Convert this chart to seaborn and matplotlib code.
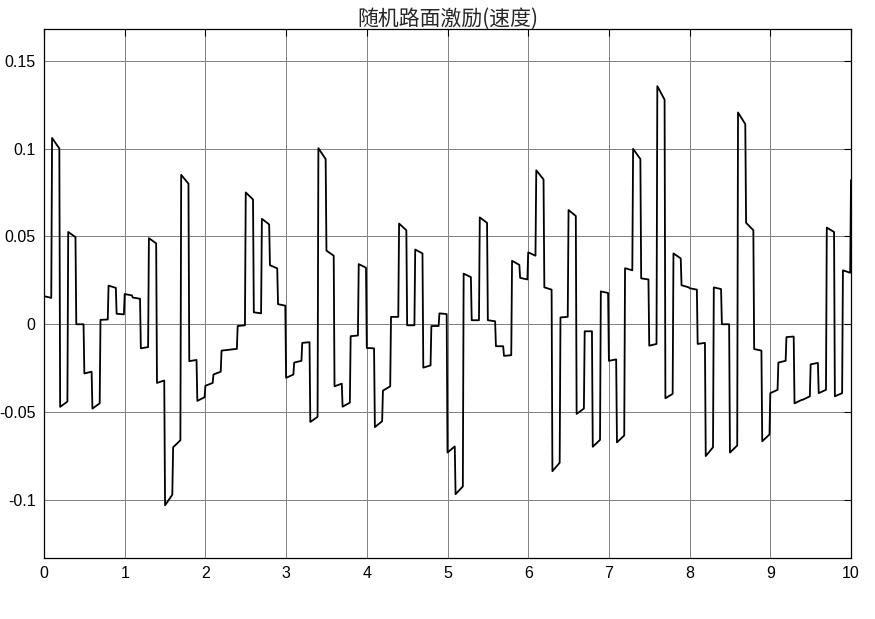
import numpy as np
import pandas as pd
import matplotlib
matplotlib.use("Agg")
import matplotlib.pyplot as plt
import seaborn as sns

# sample instants (s) - one held sample every 0.1 s
t0 = np.arange(100) * 0.1
hold = 0.09

# value at the start / end of each 0.1 s sample
v_start = [0.016, 0.106, -0.047, 0.0525, 0.0, -0.028, -0.048, 0.0025, 0.022, 0.006,
           0.0172, 0.0152, -0.0137, 0.049, -0.0334, -0.103, -0.070, 0.085, -0.021, -0.0436,
           -0.035, -0.0286, -0.015, -0.0145, -0.001, 0.075, 0.0068, 0.060, 0.0336, 0.0114,
           -0.0305, -0.0218, -0.0106, -0.0556, 0.1002, 0.0419, -0.0353, -0.0469, -0.0068, 0.0342,
           -0.0135, -0.0585, -0.0378, 0.0042, 0.0573, -0.0006, 0.0425, -0.0247, -0.001, 0.0062,
           -0.073, -0.0967, 0.0288, 0.0023, 0.0608, 0.0023, -0.0125, -0.018, 0.0361, 0.0264,
           0.0409, 0.0876, 0.021, -0.0836, 0.0039, 0.065, -0.051, -0.004, -0.0697, 0.0187,
           -0.0208, -0.0672, 0.0319, 0.0998, 0.0261, -0.0122, 0.1355, -0.0421, 0.0403, 0.0222,
           0.0205, -0.0112, -0.075, 0.021, 0.0, -0.073, 0.1205, 0.0577, -0.0141, -0.0666,
           -0.0392, -0.0218, -0.0073, -0.045, -0.043, -0.0228, -0.0392, 0.055, -0.041, 0.0307]
v_end = [0.015, 0.100, -0.044, 0.0496, 0.0, -0.027, -0.045, 0.0027, 0.0207, 0.0056,
         0.0164, 0.0145, -0.013, 0.046, -0.032, -0.097, -0.066, 0.080, -0.0203, -0.0415,
         -0.0334, -0.027, -0.0145, -0.014, -0.0006, 0.071, 0.0062, 0.0568, 0.0318, 0.0106,
         -0.0286, -0.0208, -0.0102, -0.0527, 0.094, 0.039, -0.0338, -0.0446, -0.0064, 0.0322,
         -0.0137, -0.0552, -0.0353, 0.0042, 0.0535, -0.0006, 0.0403, -0.0234, -0.001, 0.0058,
         -0.0695, -0.0923, 0.0268, 0.0023, 0.0577, 0.0017, -0.0125, -0.0176, 0.0338, 0.0255,
         0.039, 0.0824, 0.0197, -0.0788, 0.0042, 0.0616, -0.048, -0.004, -0.0658, 0.0178,
         -0.020, -0.0633, 0.0307, 0.094, 0.0255, -0.0112, 0.1278, -0.0396, 0.0375, 0.021,
         0.0197, -0.0106, -0.070, 0.020, 0.0, -0.069, 0.1139, 0.0535, -0.015, -0.0627,
         -0.0373, -0.0208, -0.007, -0.043, -0.041, -0.022, -0.0373, 0.0525, -0.0392, 0.0293]
t_last, v_last = 10.0, 0.082

# interleave start/end points into one trace
tt = np.column_stack([t0, t0 + hold]).ravel()
vv = np.column_stack([v_start, v_end]).ravel()
df = pd.DataFrame({"t": np.append(tt, t_last), "v": np.append(vv, v_last)})

sns.set_style("white")
plt.rcParams["font.family"] = ["Liberation Sans", "DejaVu Sans"]

fig = plt.figure(figsize=(8.75, 6.19), dpi=100)
ax = fig.add_axes([44 / 875, 1 - 558 / 619, (851 - 44) / 875, (558 - 29) / 619])

sns.lineplot(data=df, x="t", y="v", sort=False, estimator=None,
             color="black", linewidth=1.3, ax=ax)

ax.set_xlim(0, 10)
ax.set_ylim(-0.133, 0.168)
ax.set_xticks(range(0, 11))
ax.set_yticks([-0.1, -0.05, 0, 0.05, 0.1, 0.15])
ax.set_yticklabels(["-0.1", "-0.05", "0", "0.05", "0.1", "0.15"])
ax.grid(True, color="0.5", linewidth=0.7)
ax.tick_params(direction="in", top=True, right=True, length=5, width=0.8,
               labelsize=11.5, colors="black", pad=6)
for s in ax.spines.values():
    s.set_color("black")
    s.set_linewidth(0.9)
ax.set_xlabel("")
ax.set_ylabel("")
ax.set_title("随机路面激励(速度)", family=["Noto Sans CJK SC", "DejaVu Sans"],
             fontsize=15, pad=3)

fig.savefig("out.png", dpi=100, facecolor="white")
